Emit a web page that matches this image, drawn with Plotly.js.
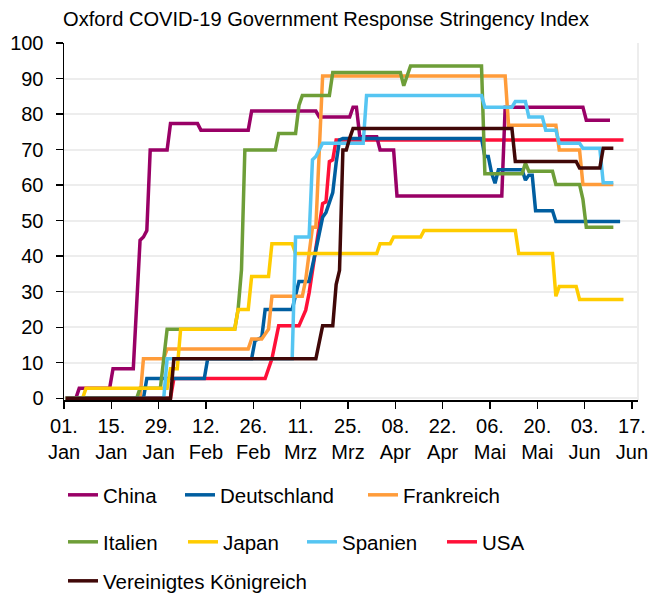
<!DOCTYPE html>
<html>
<head>
<meta charset="utf-8">
<script src="https://cdn.plot.ly/plotly-3.0.1.min.js"></script>
<style>html,body{margin:0;padding:0;background:#fff;}#chart{width:652px;height:595px;}</style>
</head>
<body>
<div id="chart"></div>
<script>
// ---- data ----
const seriesNames = ['China', 'Deutschland', 'Frankreich', 'Italien', 'Japan', 'Spanien', 'USA', 'Vereinigtes Königreich'];

const chinaDates = ['2020-01-01','2020-01-04','2020-01-05','2020-01-14','2020-01-15','2020-01-21','2020-01-23','2020-01-24','2020-01-25','2020-01-26','2020-01-31','2020-02-01','2020-02-09','2020-02-10','2020-02-24','2020-02-25','2020-03-15','2020-03-16','2020-03-25','2020-03-26','2020-03-27','2020-03-28','2020-04-02','2020-04-03','2020-04-07','2020-04-08','2020-05-09','2020-05-10','2020-06-02','2020-06-03','2020-06-10'];
const chinaValues = [0,0,2.78,2.78,8.33,8.33,44.44,45.37,47.22,69.91,69.91,77.31,77.31,75.46,75.46,80.83,80.83,79.17,79.17,81.94,81.94,73.61,73.61,69.91,69.91,56.94,56.94,81.94,81.94,78.24,78.24];

const deDates = ['2020-01-01','2020-01-24','2020-01-25','2020-02-11','2020-02-12','2020-02-25','2020-02-26','2020-02-28','2020-02-29','2020-03-08','2020-03-10','2020-03-13','2020-03-15','2020-03-17','2020-03-18','2020-03-20','2020-03-21','2020-03-22','2020-03-23','2020-05-03','2020-05-04','2020-05-05','2020-05-06','2020-05-07','2020-05-08','2020-05-15','2020-05-16','2020-05-17','2020-05-18','2020-05-19','2020-05-24','2020-05-25','2020-06-13'];
const deValues = [0,0,5.56,5.56,11.11,11.11,16.2,17.13,25,25,32.87,32.87,41.67,50.93,52.31,57.87,66.2,72.69,73.15,73.15,68.06,68.06,63.3,60.5,64.35,64.35,61.4,62.8,62.8,52.78,52.78,49.77,49.77];

const frDates = ['2020-01-01','2020-01-23','2020-01-24','2020-01-30','2020-01-31','2020-02-24','2020-02-25','2020-02-28','2020-03-01','2020-03-02','2020-03-11','2020-03-12','2020-03-14','2020-03-15','2020-03-17','2020-05-10','2020-05-11','2020-05-25','2020-05-26','2020-06-01','2020-06-02','2020-06-11'];
const frValues = [0,0,11.11,11.11,13.89,13.89,16.67,16.67,19.44,28.7,28.7,33.33,48.15,48.15,90.74,90.74,76.85,76.85,69.91,69.91,60.19,60.19];

const itDates = ['2020-01-01','2020-01-22','2020-01-23','2020-01-29','2020-01-31','2020-02-20','2020-02-21','2020-02-22','2020-02-23','2020-03-03','2020-03-04','2020-03-09','2020-03-10','2020-03-11','2020-03-19','2020-03-20','2020-04-09','2020-04-10','2020-04-12','2020-05-03','2020-05-04','2020-05-15','2020-05-16','2020-05-17','2020-05-24','2020-05-25','2020-06-01','2020-06-02','2020-06-03','2020-06-11'];
const itValues = [0,0,2.78,2.78,19.44,19.44,25,36.11,69.91,69.91,74.54,74.54,82.41,85.19,85.19,91.67,91.67,87.96,93.52,93.52,63.19,63.19,66.2,63.89,63.89,60.19,60.19,56,48.15,48.15];

const jpDates = ['2020-01-01','2020-01-06','2020-01-07','2020-01-31','2020-02-01','2020-02-03','2020-02-04','2020-02-20','2020-02-21','2020-02-24','2020-02-25','2020-03-01','2020-03-02','2020-03-08','2020-03-09','2020-04-02','2020-04-03','2020-04-06','2020-04-07','2020-04-15','2020-04-16','2020-05-13','2020-05-14','2020-05-24','2020-05-25','2020-05-26','2020-05-31','2020-06-01','2020-06-14'];
const jpValues = [0,0,2.78,2.78,8.33,8.33,19.44,19.44,25,25,34.26,34.26,43.52,43.52,40.74,40.74,43.52,43.52,45.37,45.37,47.22,47.22,40.74,40.74,28.7,31.48,31.48,27.78,27.78];

const esDates = ['2020-01-01','2020-01-30','2020-01-31','2020-03-08','2020-03-09','2020-03-13','2020-03-14','2020-03-15','2020-03-17','2020-03-29','2020-03-30','2020-05-03','2020-05-04','2020-05-12','2020-05-13','2020-05-16','2020-05-17','2020-05-21','2020-05-22','2020-05-25','2020-05-26','2020-06-01','2020-06-02','2020-06-07','2020-06-08','2020-06-11'];
const esValues = [0,0,11.11,11.11,45.37,45.37,67.13,68.06,71.76,71.76,85.19,85.19,81.94,81.94,83.5,83.5,79.17,79.17,75.46,75.46,71.76,71.76,70.37,70.37,60.65,60.65];

const usDates = ['2020-01-01','2020-02-01','2020-02-02','2020-02-29','2020-03-02','2020-03-04','2020-03-10','2020-03-12','2020-03-13','2020-03-15','2020-03-16','2020-03-17','2020-03-18','2020-03-19','2020-03-20','2020-03-21','2020-06-14'];
const usValues = [0,0,5.56,5.56,11.11,20.37,20.37,24.8,29.6,41.67,48.7,54.8,55.3,66.6,67.1,72.69,72.69];

const ukDates = ['2020-01-01','2020-02-01','2020-02-02','2020-03-15','2020-03-17','2020-03-20','2020-03-21','2020-03-22','2020-03-23','2020-03-24','2020-03-25','2020-03-26','2020-05-12','2020-05-13','2020-05-31','2020-06-01','2020-06-07','2020-06-08','2020-06-11'];
const ukValues = [0,0,11.11,11.11,20.37,20.37,32,36,69.91,69.91,73.15,75.93,75.93,66.67,66.67,64.81,64.81,70.37,70.37];

// axis ticks (every 14 days)
const tickDays = ['01.','15.','29.','12.','26.','11.','25.','08.','22.','06.','20.','03.','17.'];
const tickMonths = ['Jan','Jan','Jan','Feb','Feb','Mrz','Mrz','Apr','Apr','Mai','Mai','Jun','Jun'];
const tickDates = ['2020-01-01','2020-01-15','2020-01-29','2020-02-12','2020-02-26','2020-03-11','2020-03-25','2020-04-08','2020-04-22','2020-05-06','2020-05-20','2020-06-03','2020-06-17'];

// ---- styling ----
const FONT = 'Liberation Sans, Arial, sans-serif';
const FS = 20.5;
const TFS = 20;
const colors = {
  'China': '#990066', 'Deutschland': '#005EA0', 'Frankreich': '#FF9C3A', 'Italien': '#6E9E38',
  'Japan': '#FFCC00', 'Spanien': '#55C5F2', 'USA': '#FF1038', 'Vereinigtes Königreich': '#400808'
};
// Excel-style date axis: each day occupies a slot, ticks at slot edges
function shiftHalfDay(s) {
  const d = new Date(s + 'T00:00:00Z'); d.setUTCHours(d.getUTCHours() - 12);
  return d.toISOString().slice(0, 19).replace('T', ' ');
}
const tickPos = tickDates.map(shiftHalfDay);
const tickText = tickDays.map((d, i) => d + '<br>' + tickMonths[i]);
const xRange = [shiftHalfDay('2020-01-01'), '2020-06-18 07:00'];

const seriesData = {
  'China': [chinaDates, chinaValues], 'Deutschland': [deDates, deValues], 'Frankreich': [frDates, frValues],
  'Italien': [itDates, itValues], 'Japan': [jpDates, jpValues], 'Spanien': [esDates, esValues],
  'USA': [usDates, usValues], 'Vereinigtes Königreich': [ukDates, ukValues]
};
// legend placement (container px): [lineStartX, rowCenterY]
const legendPos = {
  'China': [68, 495], 'Deutschland': [185, 495], 'Frankreich': [368, 495],
  'Italien': [68, 542], 'Japan': [188, 542], 'Spanien': [307, 542], 'USA': [447, 542],
  'Vereinigtes Königreich': [68, 581]
};
// drawing order (later = on top)
const drawOrder = ['USA', 'China', 'Deutschland', 'Frankreich', 'Italien', 'Japan', 'Spanien', 'Vereinigtes Königreich'];

const W = 652, H = 595;
const traces = drawOrder.map(name => {
  const idx = seriesNames.indexOf(name);
  return {
    type: 'scatter', mode: 'lines', name: name,
    x: seriesData[name][0], y: seriesData[name][1],
    line: {color: colors[name], width: 3.5, shape: 'linear'},
    legend: idx === 0 ? 'legend' : 'legend' + (idx + 1),
    hoverinfo: 'skip'
  };
});

const layout = {
  width: W, height: H,
  margin: {l: 64, r: 14, t: 43, b: 195.2, pad: 0},
  paper_bgcolor: '#fff', plot_bgcolor: '#fff',
  font: {family: FONT, size: FS, color: '#000'},
  title: {text: 'Oxford COVID-19 Government Response Stringency Index', x: 63 / W, xanchor: 'left',
          xref: 'container', yref: 'container', y: 1 - 19 / H, yanchor: 'middle',
          font: {family: FONT, size: 20.1, color: '#000'}},
  xaxis: {type: 'date', range: xRange, tickmode: 'array', tickvals: tickPos, ticktext: tickText,
          showgrid: false, zeroline: false, showline: true, linecolor: '#000', linewidth: 1.5,
          ticks: 'outside', ticklen: 7, tickwidth: 1.3, tickcolor: '#000', ticklabelstandoff: 0,
          tickfont: {family: FONT, size: TFS, color: '#000'}, fixedrange: true},
  yaxis: {range: [-0.5, 100], tickmode: 'array', tickvals: [0,10,20,30,40,50,60,70,80,90,100],
          showgrid: true, gridcolor: '#EDEDED', gridwidth: 2, zeroline: false,
          showline: true, linecolor: '#000', linewidth: 1.5,
          ticks: 'outside', ticklen: 7, tickwidth: 1.3, tickcolor: '#000', ticklabelstandoff: 8,
          tickfont: {family: FONT, size: TFS, color: '#000'}, fixedrange: true},
  shapes: [{type: 'line', xref: 'paper', yref: 'paper', x0: 1, x1: 1, y0: 0, y1: 1,
            line: {color: '#EDEDED', width: 2}, layer: 'below'}],
  showlegend: true
};
seriesNames.forEach((name, i) => {
  const key = i === 0 ? 'legend' : 'legend' + (i + 1);
  layout[key] = {
    xref: 'container', yref: 'container',
    x: (legendPos[name][0] - 5) / W, xanchor: 'left',
    y: 1 - legendPos[name][1] / H, yanchor: 'middle',
    orientation: 'h', bgcolor: 'rgba(0,0,0,0)', borderwidth: 0,
    font: {family: FONT, size: FS, color: '#000'}, itemclick: false, itemdoubleclick: false
  };
});

Plotly.newPlot('chart', traces, layout, {displayModeBar: false, staticPlot: true});
</script>
</body>
</html>
